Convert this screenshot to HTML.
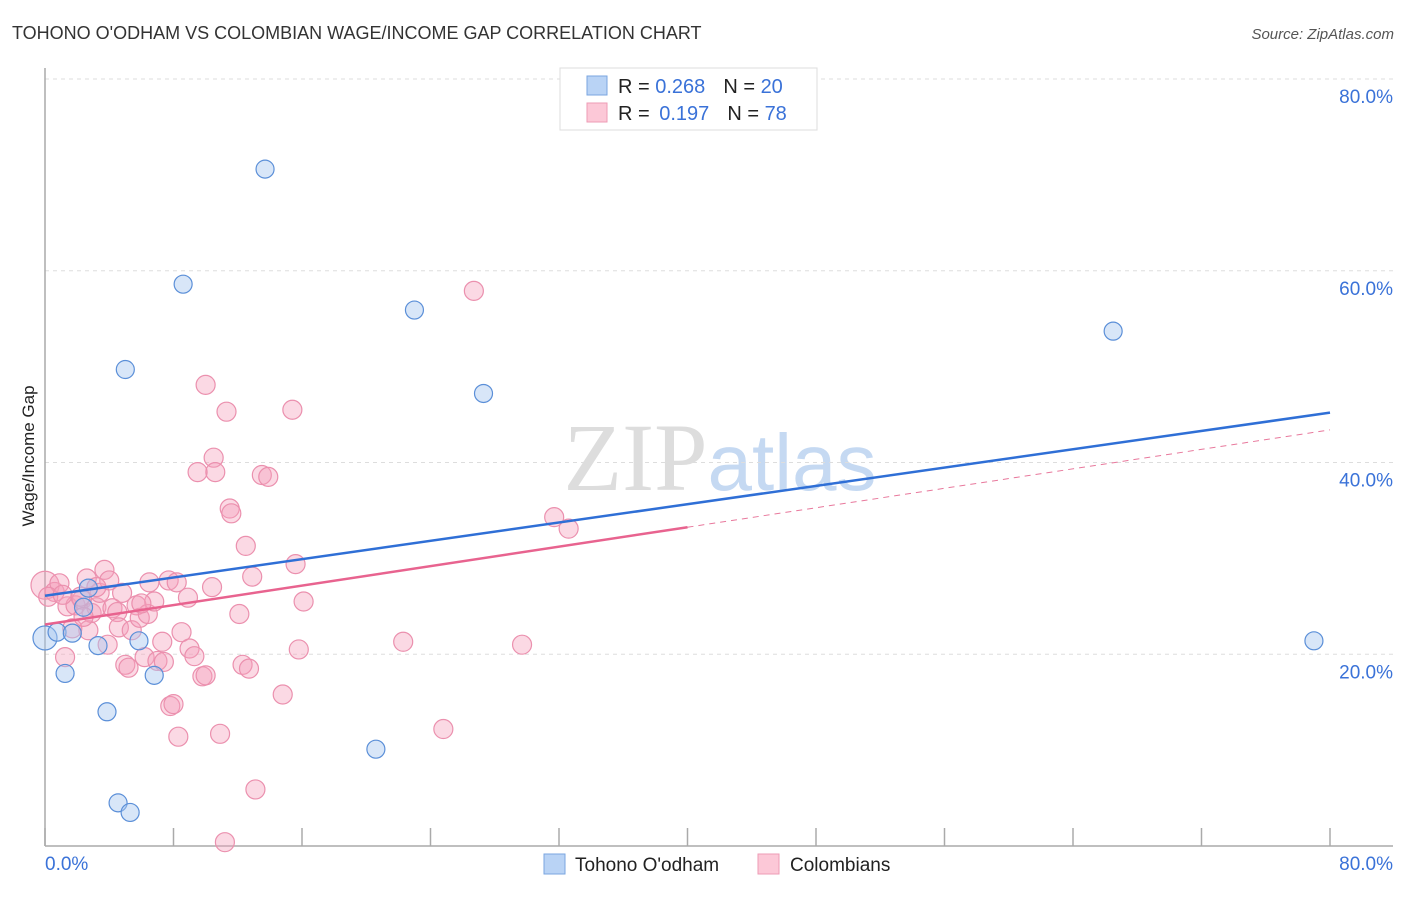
<!DOCTYPE html>
<html><head><meta charset="utf-8"><style>
body{margin:0;background:#fff;font-family:"Liberation Sans",sans-serif;}
</style></head><body>
<svg id="chart" width="1406" height="892" xmlns="http://www.w3.org/2000/svg" style="font-family:'Liberation Sans',sans-serif">
<text x="12" y="39" font-size="18" fill="#333">TOHONO O'ODHAM VS COLOMBIAN WAGE/INCOME GAP CORRELATION CHART</text>
<text x="1394" y="39" font-size="15" fill="#555" font-style="italic" text-anchor="end">Source: ZipAtlas.com</text>
<text x="720" y="490" font-size="96" fill="#ddd" text-anchor="middle" font-family="Liberation Serif">ZIP<tspan fill="#c5d9f2" font-family="Liberation Sans" font-size="80">atlas</tspan></text>
<g id="grid"></g>
<g id="axes"></g>
<g id="marks"></g>
<text transform="translate(34,456) rotate(-90)" font-size="17" fill="#222" text-anchor="middle">Wage/Income Gap</text>
<g>
<rect x="560" y="68" width="257" height="62" fill="#fff" stroke="#ddd"/>
<rect x="587" y="76" width="20" height="19" fill="#b9d3f5" stroke="#7aa6e0"/>
<rect x="587" y="103" width="20" height="19" fill="#fcc8d7" stroke="#ee9bb5"/>
<text x="618" y="93" font-size="20" fill="#222">R = <tspan fill="#3a72d8">0.268</tspan><tspan dx="18">N = </tspan><tspan fill="#3a72d8">20</tspan></text>
<text x="618" y="120" font-size="20" fill="#222">R = <tspan fill="#3a72d8" dx="4">0.197</tspan><tspan dx="18">N = </tspan><tspan fill="#3a72d8">78</tspan></text>
</g>
<g>
<rect x="544" y="854" width="21" height="20" fill="#b9d3f5" stroke="#7aa6e0"/>
<text x="575" y="871" font-size="19" fill="#222">Tohono O'odham</text>
<rect x="758" y="854" width="21" height="20" fill="#fcc8d7" stroke="#ee9bb5"/>
<text x="790" y="871" font-size="19" fill="#222">Colombians</text>
</g>
</svg>
<script>
const yTicks=[20,40,60,80];
const yTickLabels=["20.0%","40.0%","60.0%","80.0%"];
const xTickVals=[0,8,16,24,32,40,48,56,64,72,80];
const blueX=[0,0.75,1.7,1.25,3.3,3.86,4.55,5.3,5.85,6.8,2.7,2.4,5.0,8.6,13.7,20.6,23.0,27.3,66.5,79.0];
const blueY=[21.7,22.3,22.2,18.0,20.9,14.0,4.5,3.5,21.4,17.8,26.9,24.9,49.7,58.6,70.6,10.1,55.9,47.2,53.7,21.4];
const pinkX=[0,0.6,0.9,0.2,1.25,1.4,1.9,2.3,2.6,2.7,2.9,3.2,3.4,3.7,3.9,4.2,4.5,4.6,4.8,5.0,5.2,5.4,5.7,5.9,6.2,6.4,6.5,6.8,7.0,7.3,7.4,7.7,7.8,8.0,8.2,8.3,8.5,8.9,9.0,9.3,9.8,10.0,10.0,10.4,10.5,10.6,10.9,11.3,11.5,11.6,12.1,12.3,12.5,12.7,12.9,13.1,13.5,13.9,14.8,15.4,15.6,15.8,16.1,11.2,22.3,24.8,26.7,29.7,31.7,32.6,9.5,4.0,1.1,1.7,6.0,2.4,2.2,3.2];
const pinkY=[27.2,26.5,27.4,26.0,19.7,25.0,25.1,25.7,27.9,22.5,24.3,24.9,26.4,28.8,21.0,24.8,24.4,22.8,26.4,18.9,18.6,22.5,25.1,23.8,19.7,24.2,27.5,25.5,19.3,21.3,19.2,27.7,14.6,14.8,27.5,11.4,22.3,25.9,20.6,19.8,17.7,17.8,48.1,27.0,40.5,39.0,11.7,45.3,35.2,34.7,24.2,18.9,31.3,18.5,28.1,5.9,38.7,38.5,15.8,45.5,29.4,20.5,25.5,0.4,21.3,12.2,57.9,21.0,34.3,33.1,39.0,27.7,26.2,22.7,25.3,23.9,26.0,27.0];
const blueLine=[26.1,45.2];   // y at x=0 and x=80
const pinkLine=[23.1,43.4];   // y at x=0 and x=80
const pinkSolidEnd=40;
const X0=45,X1=1330,Y0=846,Y80=79;
const sx=v=>X0+(X1-X0)*v/80;
const sy=v=>Y0-(Y0-Y80)*v/80;
const NS="http://www.w3.org/2000/svg";
function mk(tag,attrs,parent){const e=document.createElementNS(NS,tag);for(const k in attrs)e.setAttribute(k,attrs[k]);parent.appendChild(e);return e;}
const grid=document.getElementById('grid'),axes=document.getElementById('axes'),marks=document.getElementById('marks');
yTicks.forEach((t,i)=>{
 const l=mk('line',{x1:X0,x2:1393,y1:sy(t),y2:sy(t),stroke:'#ddd','stroke-dasharray':'4,4'},grid);
 
 
 const tx=mk('text',{x:1393,y:sy(t)+24,'font-size':19,fill:'#3a72d8','text-anchor':'end'},grid);
 tx.textContent=yTickLabels[i];
 
 
});
const ya=mk('line',{x1:X0,x2:X0,y1:68,y2:Y0,stroke:'#aaa','stroke-width':1.5},axes);


const xa=mk('line',{x1:X0,x2:1393,y1:Y0,y2:Y0,stroke:'#aaa','stroke-width':1.5},axes);


xTickVals.forEach(t=>{
 const tk=mk('line',{x1:sx(t),x2:sx(t),y1:828,y2:Y0,stroke:'#aaa','stroke-width':1.5},axes);
 
 
});
[[0,'0.0%','start',45],[80,'80.0%','end',1393]].forEach(a=>{
 const tx=mk('text',{x:a[3],y:870,'font-size':19,fill:'#3a72d8','text-anchor':a[2]},axes);
 tx.textContent=a[1];
 
 
});
pinkX.forEach((x,i)=>{
 const c=mk('circle',{cx:sx(x),cy:sy(pinkY[i]),r:i===0?14:9.5,fill:'rgba(244,160,188,0.4)',stroke:'#eb90ae','stroke-width':1.2},marks);
 
 
});
blueX.forEach((x,i)=>{
 const c=mk('circle',{cx:sx(x),cy:sy(blueY[i]),r:i===0?12:9,fill:'rgba(168,200,240,0.45)',stroke:'#5b8fd8','stroke-width':1.2},marks);
 
 
});
const pAt=x=>pinkLine[0]+(pinkLine[1]-pinkLine[0])*x/80;
const pd=mk('line',{x1:sx(pinkSolidEnd),y1:sy(pAt(pinkSolidEnd)),x2:sx(80),y2:sy(pinkLine[1]),stroke:'#e8789c','stroke-width':1,'stroke-dasharray':'6,5'},marks);


const ps=mk('line',{x1:sx(0),y1:sy(pinkLine[0]),x2:sx(pinkSolidEnd),y2:sy(pAt(pinkSolidEnd)),stroke:'#e8638f','stroke-width':2.5},marks);


const bl=mk('line',{x1:sx(0),y1:sy(blueLine[0]),x2:sx(80),y2:sy(blueLine[1]),stroke:'#2f6fd6','stroke-width':2.5},marks);


</script>
</body></html>
